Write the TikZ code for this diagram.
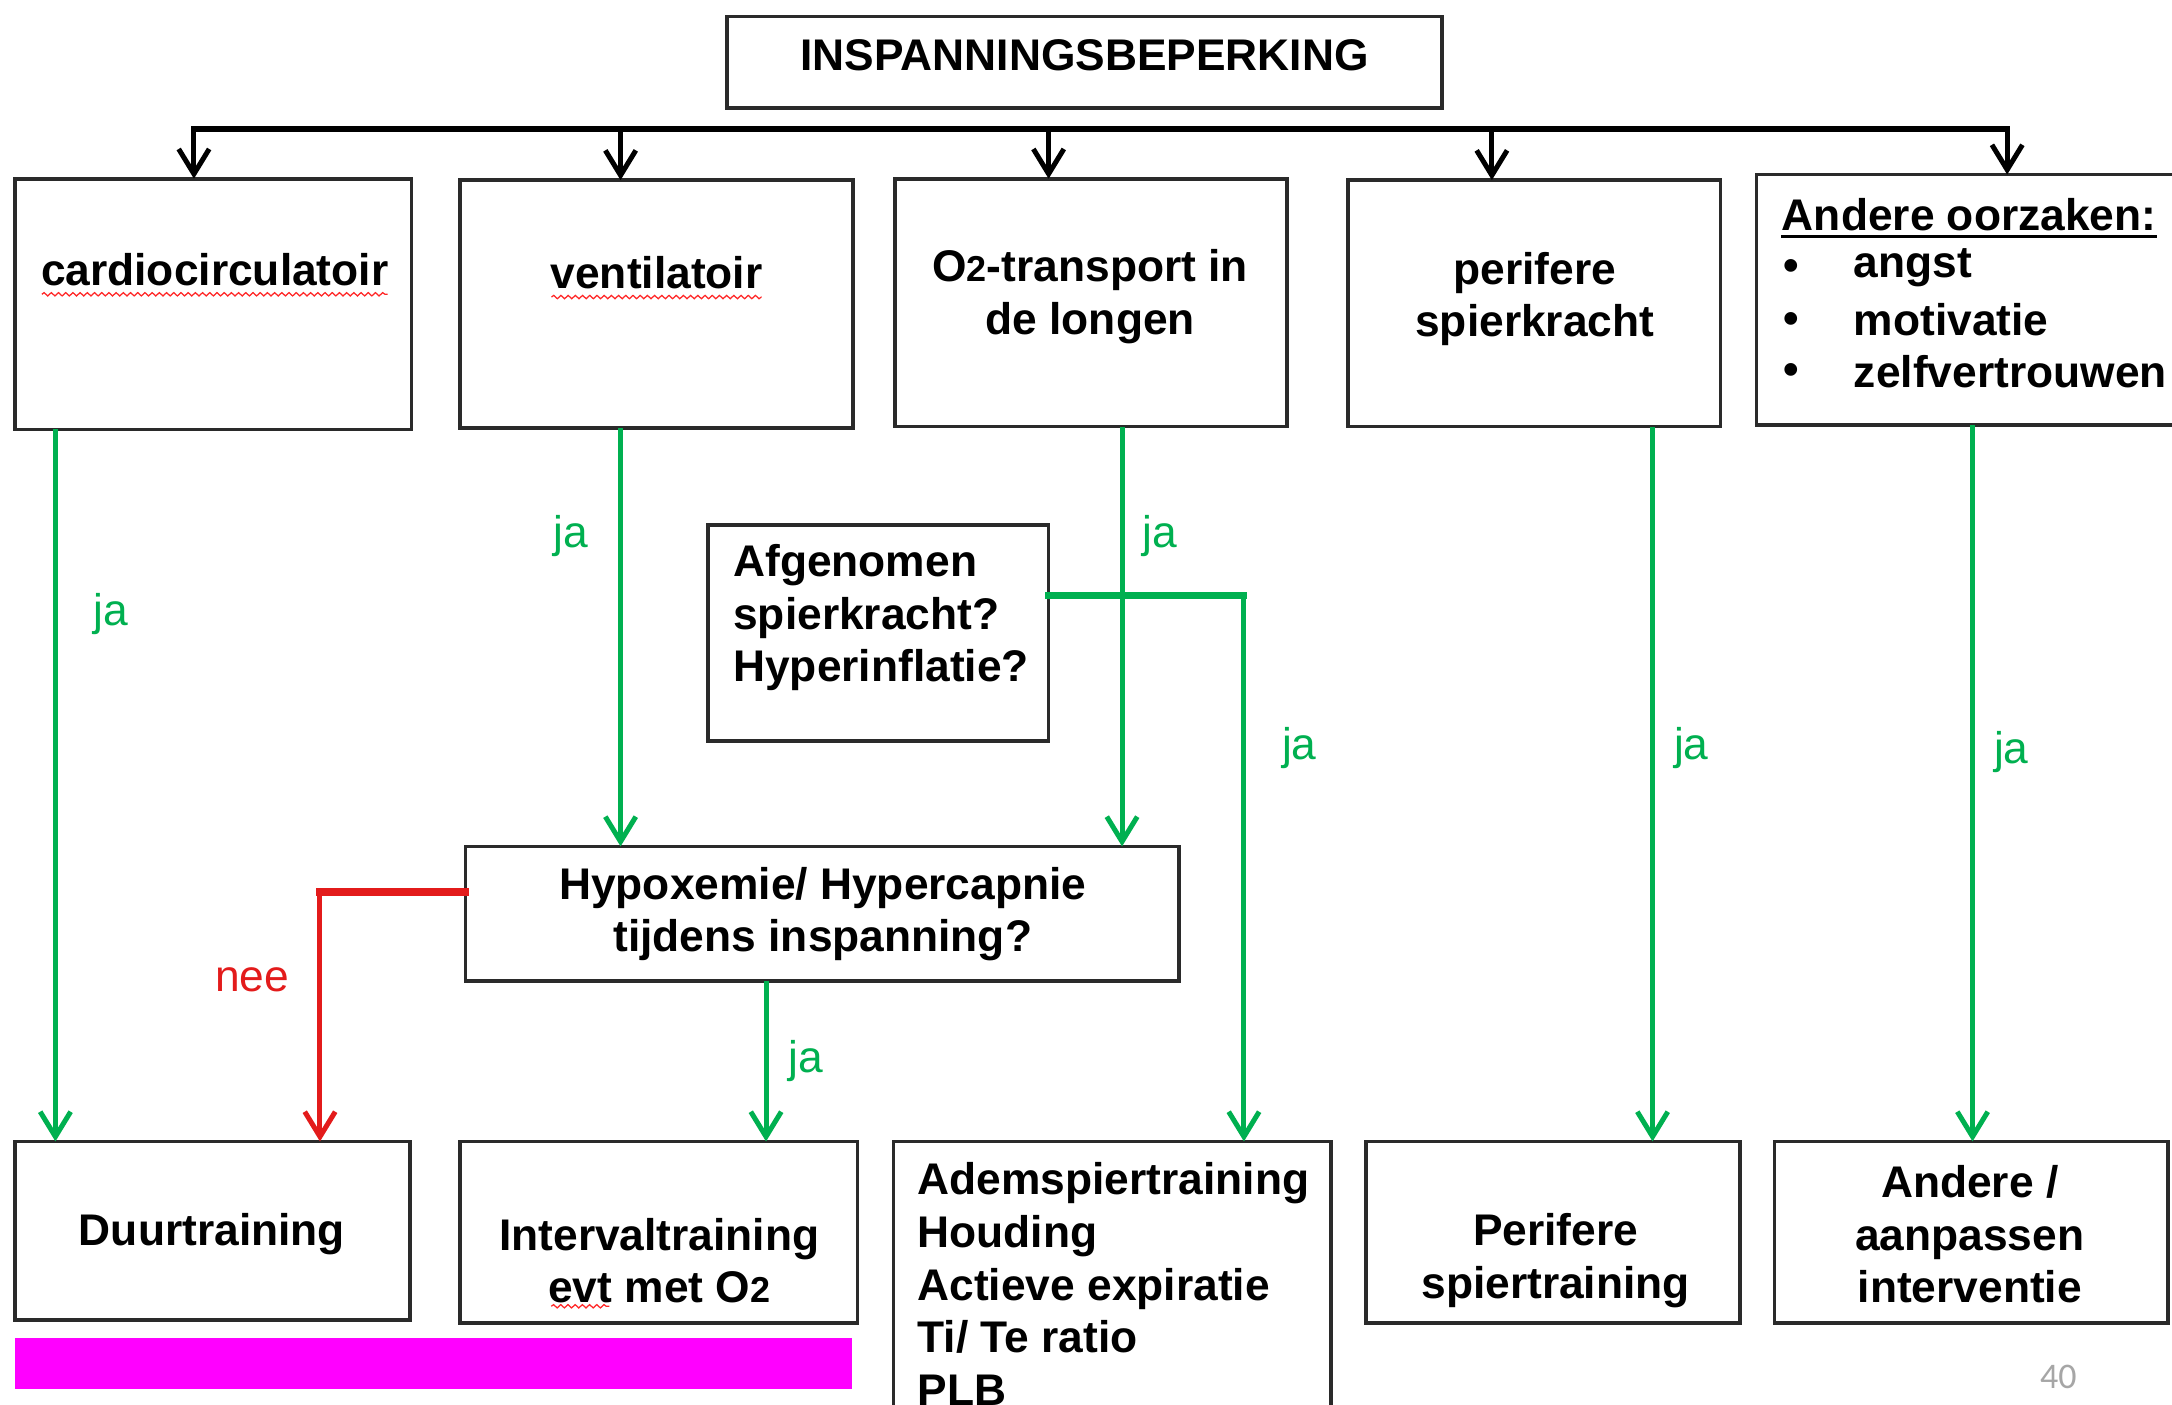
\documentclass[tikz,border=0pt]{standalone}
\usepackage{fontspec}
\setmainfont{Liberation Sans}
\newfontfamily\pagenumfont{Carlito}
\usetikzlibrary{arrows.meta,calc,decorations.pathmorphing}

\definecolor{okgreen}{HTML}{00B050}
\definecolor{nored}{HTML}{E31B1B}
\definecolor{framegray}{HTML}{2A2A2A}
\definecolor{barmagenta}{HTML}{FF00FF}
\definecolor{pagegray}{HTML}{A6A6A6}

\newcommand\Otwo{O{\fontsize{13}{19}\selectfont 2}}

% rectangle node from corner coordinates: name, x1, y1, x2, y2
\newcommand\boxnode[5]{%
  \node[box, minimum width={(#4-#2)*0.5pt}, minimum height={(#5-#3)*0.5pt}]
    (#1) at ({(#2+#4)/2},{(#3+#5)/2}) {};}

\tikzset{
  box/.style={draw=framegray, line width=1.3pt, inner sep=0pt, outer sep=0pt},
  txt/.style={font=\fontsize{16}{19}\selectfont\bfseries, inner sep=0pt, align=center},
  ltxt/.style={txt, align=left, anchor=west},
  yeslabel/.style={font=\fontsize{16}{19}\selectfont, text=okgreen, inner sep=0pt},
  nolabel/.style={font=\fontsize{16}{19}\selectfont, text=nored, inner sep=0pt},
  busline/.style={line width=2.3pt, line cap=rect},
  tipshape/.style={-{Straight Barb[length=9pt,width=11pt]}},
  drop/.style={line width=1.8pt, tipshape},
  yesline/.style={draw=okgreen, line width=1.8pt},
  yesarrow/.style={yesline, tipshape},
  yesthick/.style={draw=okgreen, line width=2.4pt},
  noline/.style={draw=nored, line width=2.6pt},
  noarrow/.style={draw=nored, line width=1.8pt, tipshape},
  spell/.style={draw=red!85, line width=0.45pt, decorate,
    decoration={snake, segment length=2.6pt, amplitude=0.6pt}},
}

\begin{document}
\begin{tikzpicture}[x=0.5pt, y=-0.5pt]
\useasboundingbox (0,0) rectangle (1568,1014);
\clip (0,0) rectangle (1568,1014);
\fill[white] (0,0) rectangle (1568,1014);

% ---- boxes ----
\boxnode{title}{525}{12}{1041}{78}
\boxnode{cardio}{11}{129}{297}{310}
\boxnode{venti}{332}{130}{616}{309}
\boxnode{otwo}{646}{129}{929}{308}
\boxnode{perif}{973}{130}{1242}{308}
\boxnode{other}{1268}{126}{1580}{307}
\boxnode{afg}{511}{379}{757}{535}
\boxnode{hyp}{336}{611}{851}{708}
\boxnode{duur}{11}{824}{296}{953}
\boxnode{interv}{332}{824}{619}{955}
\boxnode{adem}{645}{824}{961}{1040}
\boxnode{perT}{986}{824}{1256}{955}
\boxnode{othT}{1281}{824}{1565}{955}

% ---- box texts ----
\node[txt] (ttitle) at (783,40) {INSPANNINGSBEPERKING};
\node[txt] (tcardio) at (155,195) {cardiocirculatoir};
\node[txt] (tventi) at (474,197) {ventilatoir};
\node[txt] (totwo) at (787,214) {\Otwo-transport in\\de longen};
\node[txt] (tperif) at (1108,216) {perifere\\spierkracht};
\node[ltxt] (theading) at (1286,155) {Andere oorzaken:};
\node[txt] (bul1) at (1293,195) {\textbullet};
\node[txt] (bul2) at (1293,233) {\textbullet};
\node[txt] (bul3) at (1293,270) {\textbullet};
\node[ltxt] (item1) at (1338,193) {angst};
\node[ltxt] (item2) at (1338,231) {motivatie};
\node[ltxt] (item3) at (1338,268) {zelfvertrouwen};
\node[ltxt] (tafg) at (529,446) {Afgenomen\\spierkracht?\\Hyperinflatie?};
\node[txt] (thyp) at (594,660) {Hypoxemie/ Hypercapnie\\tijdens inspanning?};
\node[txt] (tduur) at (153,891) {Duurtraining};
\node[txt] (tinterv) at (476,910) {Intervaltraining\\evt met \Otwo};
\node[ltxt] (tadem) at (662,927) {Ademspiertraining\\Houding\\Actieve expiratie\\Ti/ Te ratio\\PLB};
\node[txt] (tperT) at (1123,910) {Perifere\\spiertraining};
\node[txt] (tothT) at (1422,891) {Andere /\\aanpassen\\interventie};

% heading underline and spelling marks
\draw[line width=1.1pt] ($(theading.base west)+(0,4)$) -- ($(theading.base east)+(0,4)$);
\draw[spell] ($(tcardio.base west)+(1,6)$) -- ($(tcardio.base east)+(-1,6)$);
\draw[spell] ($(tventi.base west)+(1,6)$) -- ($(tventi.base east)+(-1,6)$);
\coordinate (evtL) at (398,943);
\coordinate (evtR) at (440,943);
\draw[spell] (evtL) -- (evtR);

% ---- fan-out bus ----
\coordinate (busL) at (140,93);
\coordinate (busR) at (1449,93);
\coordinate (b2) at (448,93);
\coordinate (b3) at (757,93);
\coordinate (b4) at (1077,93);
\draw[busline] (busL) -- (busR);
\draw[drop] (busL) -- (busL |- cardio.north);
\draw[drop] (b2) -- (b2 |- venti.north);
\draw[drop] (b3) -- (b3 |- otwo.north);
\draw[drop] (b4) -- (b4 |- perif.north);
\draw[drop] (busR) -- (busR |- other.north);

% ---- "ja" connectors ----
\coordinate (gx1) at (40,0);
\coordinate (gx2) at (448,0);
\coordinate (gx3) at (810,0);
\coordinate (gx4) at (1193,0);
\coordinate (gx5) at (1424,0);
\coordinate (gx6) at (553,0);
\draw[yesarrow] (gx1 |- cardio.south) -- (gx1 |- duur.north);
\draw[yesarrow] (gx2 |- venti.south) -- (gx2 |- hyp.north);
\draw[yesarrow] (gx3 |- otwo.south) -- (gx3 |- hyp.north);
\draw[yesarrow] (gx4 |- perif.south) -- (gx4 |- perT.north);
\draw[yesarrow] (gx5 |- other.south) -- (gx5 |- othT.north);
\draw[yesarrow] (gx6 |- hyp.south) -- (gx6 |- interv.north);
\coordinate (afgturn) at (898,430);
\draw[yesthick, line cap=rect] (afg.east |- afgturn) -- (afgturn);
\draw[yesarrow] (afgturn) -- (afgturn |- adem.north);

% ---- "nee" connector ----
\coordinate (noturn) at (231,644);
\draw[noline, line cap=rect] (hyp.west |- noturn) -- (noturn);
\draw[noarrow] (noturn) -- (noturn |- duur.north);

% ---- labels ----
\node[yeslabel] (ja1) at (80,443) {ja};
\node[yeslabel] (ja2) at (412,387) {ja};
\node[yeslabel] (ja3) at (837,387) {ja};
\node[yeslabel] (ja4) at (938,540) {ja};
\node[yeslabel] (ja5) at (1221,540) {ja};
\node[yeslabel] (ja6) at (1452,543) {ja};
\node[yeslabel] (ja7) at (582,766) {ja};
\node[nolabel] (nee) at (182,707) {nee};

% ---- bar and page number ----
\fill[barmagenta] (11,966) rectangle (615,1003);
\node[font=\pagenumfont\fontsize{13}{15}\selectfont, text=pagegray, inner sep=0pt] (pagenum) at (1486,994) {40};
\end{tikzpicture}
\end{document}
